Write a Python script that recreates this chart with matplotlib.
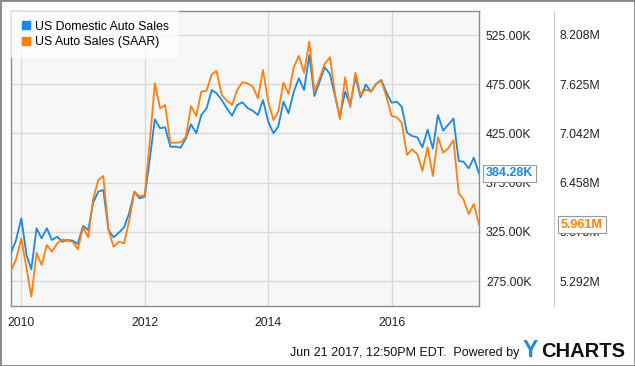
import pandas as pd
import matplotlib.pyplot as plt
import matplotlib.dates as mdates
from matplotlib.lines import Line2D
from matplotlib.patches import Rectangle

plt.rcParams['font.family'] = ['Liberation Sans', 'DejaVu Sans']

# Monthly data, Oct 2009 - May 2017
dates = pd.date_range("2009-10-31", periods=92, freq="ME")

domestic_k = [
    303.8, 316.7, 338.7, 301.4, 286.9, 328.6, 318.4, 328.6, 316.7, 320.0,
    314.9, 316.7, 316.0, 312.6, 330.9, 326.8, 354.0, 365.8, 367.5, 326.8,
    319.4, 324.1, 329.6, 343.8, 365.8, 359.0, 360.7, 400.0, 439.3, 430.2,
    431.2, 411.5, 411.5, 410.5, 420.0, 434.2, 425.1, 443.7, 450.5, 469.1,
    465.8, 458.9, 450.5, 443.0, 453.9, 456.6, 450.8, 448.1, 443.7, 458.9,
    436.9, 425.1, 431.8, 457.2, 445.4, 467.4, 481.0, 469.1, 504.7, 463.0,
    477.5, 492.2, 485.4, 462.3, 442.0, 467.4, 453.9, 482.6, 461.7, 474.7,
    467.4, 475.2, 479.3, 466.6, 456.2, 457.2, 452.1, 425.9, 422.4, 421.0,
    410.9, 428.8, 409.5, 443.7, 427.9, 433.8, 440.1, 397.0, 396.2, 389.5,
    400.3, 384.28,
]

saar_m = [
    5.414, 5.549, 5.798, 5.442, 5.106, 5.627, 5.482, 5.719, 5.639, 5.739,
    5.786, 5.770, 5.758, 5.668, 5.928, 5.810, 6.252, 6.489, 6.537, 5.896,
    5.699, 5.758, 5.739, 6.007, 6.350, 6.294, 6.311, 6.963, 7.635, 7.339,
    7.378, 6.931, 6.931, 6.936, 7.002, 7.366, 7.248, 7.536, 7.548, 7.742,
    7.781, 7.497, 7.429, 7.378, 7.556, 7.647, 7.635, 7.595, 7.458, 7.793,
    7.417, 7.200, 7.299, 7.643, 7.509, 7.825, 7.959, 7.761, 8.129, 7.536,
    7.695, 7.864, 7.944, 7.497, 7.209, 7.707, 7.351, 7.761, 7.497, 7.562,
    7.536, 7.627, 7.666, 7.477, 7.248, 7.232, 7.165, 6.786, 6.853, 6.794,
    6.599, 6.877, 6.537, 6.995, 6.813, 6.865, 6.963, 6.331, 6.260, 6.086,
    6.205, 5.961,
]

left_ticks = [275, 325, 375, 425, 475, 525]
right_ticks = [5.292, 5.875, 6.458, 7.042, 7.625, 8.208]
year_ticks = ["2010-01-01", "2012-01-01", "2014-01-01", "2016-01-01"]

blue = "#1a88e6"
orange = "#ff7f0e"

fig = plt.figure(figsize=(6.35, 3.66), dpi=100)
ax = fig.add_axes([11 / 635, 60 / 366, 468 / 635, 295 / 366])
ax.set_facecolor("#f7f7f7")
ax2 = ax.twinx()

ax.plot(dates, domestic_k, color=blue, lw=1.3, zorder=3)
ax.set_ylim(249.6, 549.4)
ax.set_xlim(dates[0], dates[-1])
ax.set_yticks(left_ticks)
ax.set_yticklabels([f"{v:.2f}K" for v in left_ticks])
ax.yaxis.tick_right()
ax.set_xticks(pd.to_datetime(year_ticks))
ax.xaxis.set_major_formatter(mdates.DateFormatter("%Y"))
ax.tick_params(length=0, labelsize=8.8, colors="#222222")
ax.tick_params(axis="y", pad=5)
ax.tick_params(axis="x", pad=8)
ax.grid(True, color="#d9d9d9", lw=1)
ax.set_axisbelow(True)
for s in ax.spines.values():
    s.set_color("#8c8c8c")
    s.set_linewidth(1)

ax2.plot(dates, saar_m, color=orange, lw=1.3, zorder=3)
ax2.set_ylim(4.996, 8.492)
ax2.set_yticks(right_ticks)
ax2.set_yticklabels([f"{v:.3f}M" for v in right_ticks])
ax2.spines["right"].set_position(("outward", 54))
ax2.spines["right"].set_color("#cccccc")
for side in ["left", "top", "bottom"]:
    ax2.spines[side].set_visible(False)
ax2.tick_params(length=0, labelsize=8.8, colors="#222222", pad=4)

# last value flags
ax2.annotate(f"{domestic_k[-1]:.2f}K", xy=(1, domestic_k[-1]),
             xycoords=("axes fraction", ax.transData), xytext=(7, 0),
             textcoords="offset pixels", va="center", ha="left",
             color=blue, fontsize=9, fontweight="bold", zorder=10,
             annotation_clip=False,
             bbox=dict(boxstyle="square,pad=0.22", fc="white", ec="#999999", lw=0.8))
ax2.annotate(f"{saar_m[-1]:.3f}M", xy=(1, saar_m[-1]),
             xycoords=("axes fraction", "data"), xytext=(82, 0),
             textcoords="offset pixels", va="center", ha="left",
             color=orange, fontsize=9, fontweight="bold", zorder=10,
             annotation_clip=False,
             bbox=dict(boxstyle="square,pad=0.22", fc="white", ec="#999999", lw=0.8))

handles = [
    Line2D([], [], marker="s", ls="none", color=blue, markersize=6),
    Line2D([], [], marker="s", ls="none", color=orange, markersize=6),
]
leg = ax2.legend(handles, ["US Domestic Auto Sales", "US Auto Sales (SAAR)"],
                 loc="upper left", bbox_to_anchor=(0, 1), borderaxespad=0,
                 fontsize=8.8, frameon=True, fancybox=False, framealpha=0.75,
                 edgecolor="none", handlelength=0.8, handletextpad=0.4,
                 labelspacing=0.3, borderpad=0.8)
leg.get_frame().set_facecolor("white")

# footer
fig.text(519 / 635, 1 - 353 / 366, "Jun 21 2017, 12:50PM EDT.  Powered by",
         ha="right", va="center", fontsize=9, color="#111111")
fig.text(523 / 635, 1 - 357 / 366, "Y", ha="left", va="baseline",
         fontsize=16.5, fontweight="bold", color="#1a8be6")
fig.text(541 / 635, 1 - 357 / 366, "CHARTS", ha="left", va="baseline",
         fontsize=14.5, fontweight="bold", color="#111111")

fig.patches.append(Rectangle((0, 0), 1, 1, transform=fig.transFigure,
                             fill=False, ec="#888888", lw=2))

fig.savefig("out.png", dpi=100)
